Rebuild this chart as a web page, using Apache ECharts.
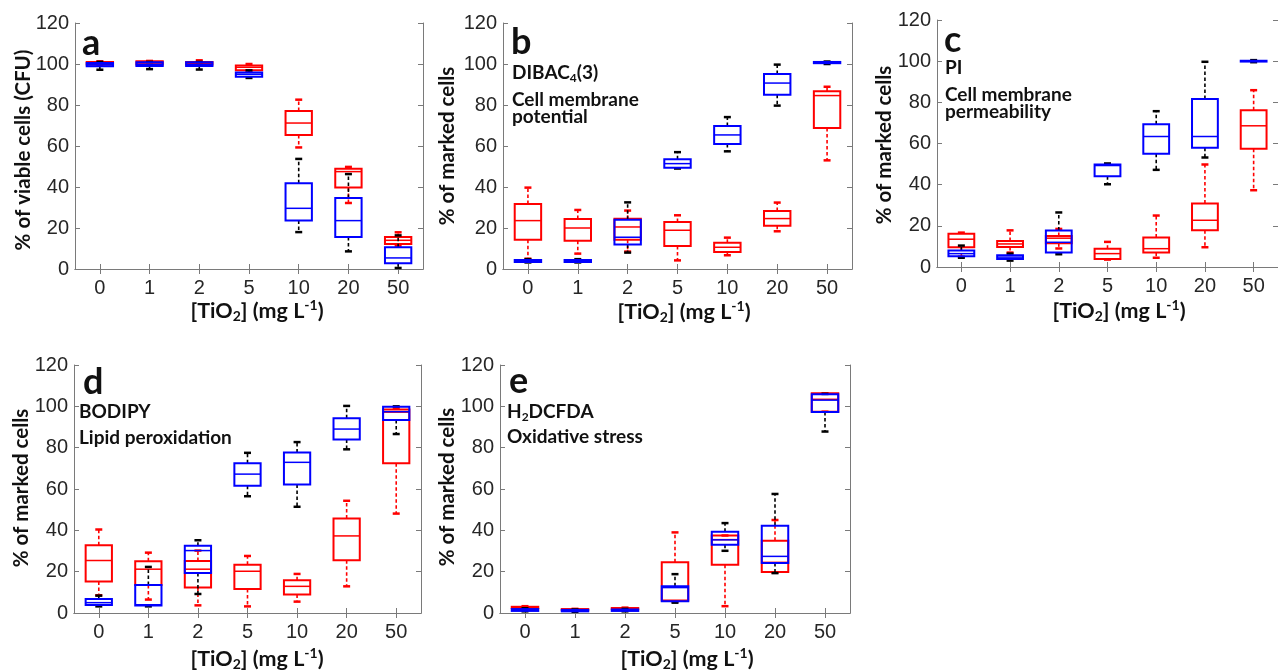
<!DOCTYPE html>
<html>
<head>
<meta charset="utf-8">
<script src="https://cdn.jsdelivr.net/npm/echarts@6/dist/echarts.min.js"></script>
<style>
html,body{margin:0;padding:0;background:#fff;}
#chart{width:1278px;height:671px;}
</style>
</head>
<body>
<div id="chart"></div>
<script>
// ---- data ----
const categories = ['0', '1', '2', '5', '10', '20', '50'];
const yTickMin = 0, yTickMax = 120, yTickStep = 20;

// each row: [min, Q1, median, Q3, max]
const aRed = [
  [99.5, 99.8, 100.3, 101, 101.3],
  [99.5, 99.8, 100.5, 101.3, 101.5],
  [99.5, 99.8, 100.3, 101, 101.8],
  [96.5, 96.9, 98.4, 99.3, 100],
  [59.3, 65.4, 71.2, 77.1, 82.6],
  [32.2, 39.8, 47.5, 48.9, 49.8],
  [11.4, 12.2, 14, 15.6, 17.9]
];
const aBlue = [
  [97.2, 98.9, 99.6, 100.5, 101],
  [97.5, 99, 99.8, 100.8, 101],
  [97.3, 99, 99.8, 100.8, 101],
  [93.2, 93.8, 95, 95.9, 96.9],
  [18.0, 23.7, 29.6, 41.8, 53.7],
  [8.6, 15.6, 23.6, 34.6, 46.3],
  [0.5, 2.8, 5.4, 10.6, 16.4]
];
const bRed = [
  [5, 14.3, 23.6, 31.7, 39.7],
  [7.5, 13.8, 20, 24.4, 28.8],
  [8.5, 14.3, 20.5, 24.5, 28.5],
  [4.2, 11.2, 18.9, 22.9, 26.2],
  [6.7, 8.3, 10.6, 12.8, 15.3],
  [18.4, 21.1, 24.6, 28.3, 32.4],
  [53, 68.8, 84.6, 86.7, 88.9]
];
const bBlue = [
  [3.2, 3.4, 3.8, 4.4, 4.8],
  [3.2, 3.4, 3.8, 4.4, 4.8],
  [8, 12, 15.5, 24, 32.5],
  [49, 49.4, 51.4, 53.5, 57],
  [57.4, 61, 65.4, 69.8, 74.1],
  [79.7, 85, 90.7, 95.1, 99.7],
  [100, 100.4, 100.7, 101, 101.2]
];
const cRed = [
  [5, 9.6, 13.5, 16.2, 16.7],
  [7, 9.7, 11.2, 12.6, 17.8],
  [9, 11.5, 14, 15.1, 18.5],
  [3.6, 3.9, 6.5, 8.9, 12.2],
  [4.5, 7, 8.9, 14.3, 25],
  [9.6, 17.8, 22.7, 30.8, 49.8],
  [37.3, 57.4, 68.6, 76.2, 85.9]
];
const cBlue = [
  [4.5, 5.2, 6.5, 8.0, 10.4],
  [3.1, 3.9, 4.8, 5.7, 6.5],
  [6.2, 7, 12, 17.7, 26.5],
  [40.2, 44.1, 49.3, 49.8, 50.3],
  [47.2, 55, 63.4, 69.4, 75.7],
  [53.2, 57.9, 63.4, 81.6, 99.7],
  [99.5, 99.8, 100, 100.2, 100.5]
];
const dRed = [
  [8.6, 15.2, 25.4, 32.8, 40.4],
  [6.5, 13.5, 21.2, 25, 29.2],
  [3.7, 12.3, 21.2, 25.2, 30.2],
  [3.2, 11.6, 20.2, 23.4, 27.6],
  [5.5, 8.9, 12.9, 15.8, 18.9],
  [12.9, 25.5, 37.3, 45.7, 54.3],
  [48.1, 72.4, 97.2, 98.5, 99]
];
const dBlue = [
  [3.2, 3.9, 5, 6.8, 8.4],
  [3.2, 3.6, 4, 13.6, 22.3],
  [9.2, 19.4, 30.2, 32.6, 35.2],
  [56.5, 61.6, 67.2, 72.4, 77.5],
  [51.4, 62.2, 72.9, 77.7, 82.7],
  [79.2, 84, 89, 94.2, 100.2],
  [86.6, 93.4, 97.4, 99.8, 100]
];
const eRed = [
  [2.2, 2.4, 2.7, 3.0, 3.3],
  [1.3, 1.5, 1.7, 1.9, 2.0],
  [1.8, 2.0, 2.2, 2.4, 2.6],
  [5.5, 6, 12.5, 24.5, 39],
  [3.3, 23.3, 35.5, 37.5, 37.5],
  [19.6, 19.8, 24.5, 34.9, 45],
  [97.4, 97.4, 103.4, 106.3, 106.3]
];
const eBlue = [
  [0.8, 1.0, 1.4, 1.9, 2.3],
  [0.6, 0.8, 1.1, 1.5, 1.7],
  [0.8, 1.0, 1.3, 1.7, 2.0],
  [5, 5.7, 12.3, 12.9, 18.8],
  [30.1, 33, 35.4, 39.3, 43.5],
  [19.3, 24.2, 27.4, 42.2, 57.6],
  [87.8, 97.3, 103, 105.8, 106]
];

const panelLetters = ['a', 'b', 'c', 'd', 'e'];
const yTitles = ['% of viable cells (CFU)', '% of marked cells', '% of marked cells', '% of marked cells', '% of marked cells'];

// ---- layout / style ----
const RED = '#ff0000', BLUE = '#0000ff', BLACK = '#000000';
const AXIS_COLOR = '#7a7a7a', LABEL_COLOR = '#262626', TEXT_COLOR = '#111111';
const panels = [
  {grid: {left: 75, top: 23, width: 348, height: 246}, red: aRed, blue: aBlue},
  {grid: {left: 503, top: 23, width: 349, height: 246}, red: bRed, blue: bBlue},
  {grid: {left: 937, top: 20, width: 344, height: 247}, red: cRed, blue: cBlue},
  {grid: {left: 74, top: 365, width: 347, height: 248}, red: dRed, blue: dBlue},
  {grid: {left: 500, top: 365, width: 350, height: 248}, red: eRed, blue: eBlue}
];

function makeRender(boxColor, whiskColor) {
  return function (params, api) {
    const i = api.value(0);
    const pMin = api.coord([i, api.value(1)]);
    const pQ1 = api.coord([i, api.value(2)]);
    const pMed = api.coord([i, api.value(3)]);
    const pQ3 = api.coord([i, api.value(4)]);
    const pMax = api.coord([i, api.value(5)]);
    const band = api.size([1, 0])[0];
    const w = band * 0.53;
    const cx = pQ1[0];
    const cap = 3.5;
    const dash = {stroke: whiskColor, lineWidth: 1.6, lineDash: [3.5, 2.5], fill: null};
    const capStyle = {stroke: whiskColor, lineWidth: 2.5, fill: null};
    return {
      type: 'group',
      children: [
        {type: 'line', shape: {x1: cx, y1: pQ3[1], x2: cx, y2: pMax[1]}, style: dash},
        {type: 'line', shape: {x1: cx, y1: pQ1[1], x2: cx, y2: pMin[1]}, style: dash},
        {type: 'line', shape: {x1: cx - cap, y1: pMax[1], x2: cx + cap, y2: pMax[1]}, style: capStyle},
        {type: 'line', shape: {x1: cx - cap, y1: pMin[1], x2: cx + cap, y2: pMin[1]}, style: capStyle},
        {type: 'rect', shape: {x: cx - w / 2, y: pQ3[1], width: w, height: pQ1[1] - pQ3[1]},
          style: {fill: null, stroke: boxColor, lineWidth: 2}},
        {type: 'line', shape: {x1: cx - w / 2, y1: pMed[1], x2: cx + w / 2, y2: pMed[1]},
          style: {stroke: boxColor, lineWidth: 1.5, fill: null}}
      ]
    };
  };
}

const grids = [], xAxes = [], yAxes = [], series = [];
const tickStyle = {show: true, inside: true, length: 5, lineStyle: {color: AXIS_COLOR, width: 1}};
panels.forEach((p, k) => {
  grids.push(Object.assign({show: false}, p.grid));
  xAxes.push({
    type: 'category', gridIndex: k, data: categories, position: 'bottom',
    axisLine: {lineStyle: {color: AXIS_COLOR, width: 1}},
    axisTick: Object.assign({alignWithLabel: true}, tickStyle),
    axisLabel: {color: LABEL_COLOR, fontSize: 20, fontFamily: 'Liberation Sans', margin: 9},
    splitLine: {show: false}
  });
  xAxes.push({
    type: 'category', gridIndex: k, data: categories, position: 'top',
    axisLine: {lineStyle: {color: AXIS_COLOR, width: 1}},
    axisTick: Object.assign({alignWithLabel: true}, tickStyle),
    axisLabel: {show: false}, splitLine: {show: false}
  });
  yAxes.push({
    type: 'value', gridIndex: k, min: yTickMin, max: yTickMax, interval: yTickStep, position: 'left',
    axisLine: {show: true, lineStyle: {color: AXIS_COLOR, width: 1}},
    axisTick: tickStyle,
    axisLabel: {color: LABEL_COLOR, fontSize: 20, fontFamily: 'Liberation Sans', margin: 6},
    splitLine: {show: false}
  });
  yAxes.push({
    type: 'value', gridIndex: k, min: yTickMin, max: yTickMax, interval: yTickStep, position: 'right',
    axisLine: {show: true, lineStyle: {color: AXIS_COLOR, width: 1}},
    axisTick: tickStyle,
    axisLabel: {show: false}, splitLine: {show: false}
  });
  [[p.red, RED, RED], [p.blue, BLUE, BLACK]].forEach(([arr, bc, wc]) => {
    series.push({
      type: 'custom', xAxisIndex: 2 * k, yAxisIndex: 2 * k, silent: true, clip: false,
      renderItem: makeRender(bc, wc),
      encode: {x: 0, y: [1, 2, 3, 4, 5]},
      data: arr.map((d, i) => [i].concat(d))
    });
  });
});

// ---- text elements ----
const F = 'Lato';
const graphic = [];
function addText(x, y, text, fontSize, opt) {
  opt = opt || {};
  graphic.push({
    type: 'text', x: x, y: y, rotation: opt.rotation || 0, silent: true,
    style: {
      text: text,
      fill: TEXT_COLOR,
      font: 'bold ' + fontSize + 'px ' + F,
      textAlign: opt.align || 'left',
      textVerticalAlign: 'middle',
      rich: opt.rich
    }
  });
}
function subRich(fs) {
  return {
    m: {fontSize: fs, fontWeight: 'bold', fontFamily: F, color: TEXT_COLOR},
    s: {fontSize: Math.round(fs * 0.65), fontWeight: 'bold', fontFamily: F, color: TEXT_COLOR, padding: [Math.round(fs * 0.5), 0, 0, 0]},
    p: {fontSize: Math.round(fs * 0.65), fontWeight: 'bold', fontFamily: F, color: TEXT_COLOR, padding: [0, 0, Math.round(fs * 0.5), 0]}
  };
}
// panel letters
const letterPos = [[82, 43], [511, 42], [944, 40], [83, 382], [509, 381]];
letterPos.forEach((pos, k) => addText(pos[0], pos[1], panelLetters[k], 36));
// y titles
const yTitlePos = [[23, 150], [447, 146], [884, 145], [21, 488], [447, 487]];
yTitlePos.forEach((pos, k) => addText(pos[0], pos[1], yTitles[k], 20.5, {align: 'center', rotation: Math.PI / 2}));
// x titles
const xTitle = '{m|[TiO}{s|2}{m|] (mg L}{p|-1}{m|)}';
const xTitlePos = [[257, 311], [684, 312], [1119, 311], [257, 659], [687, 659]];
xTitlePos.forEach(pos => addText(pos[0], pos[1], xTitle, 21.5, {align: 'center', rich: subRich(21.5)}));
// annotations
const annFs = 19;
addText(512, 73, '{m|DIBAC}{s|4}{m|(3)}', annFs, {rich: subRich(annFs)});
addText(512, 100, 'Cell membrane', annFs);
addText(512, 117, 'potential', annFs);
addText(945, 68, 'PI', annFs);
addText(945, 95, 'Cell membrane', annFs);
addText(945, 112, 'permeability', annFs);
addText(79, 412, 'BODIPY', annFs);
addText(79, 438, 'Lipid peroxidation', annFs);
addText(507, 412, '{m|H}{s|2}{m|DCFDA}', annFs, {rich: subRich(annFs)});
addText(507, 437, 'Oxidative stress', annFs);

const chart = echarts.init(document.getElementById('chart'), null, {renderer: 'canvas'});
chart.setOption({
  backgroundColor: '#ffffff',
  animation: false,
  grid: grids,
  xAxis: xAxes,
  yAxis: yAxes,
  series: series,
  graphic: graphic
});
</script>
</body>
</html>
